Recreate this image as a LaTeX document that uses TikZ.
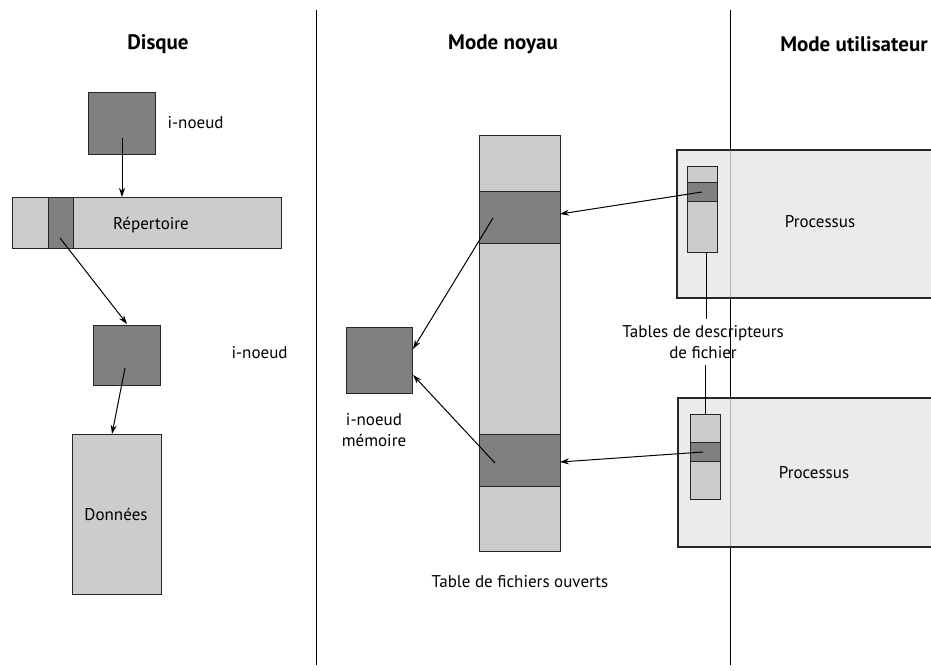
\documentclass[tikz,border=0pt]{standalone}
\usepackage{fontspec}
\setmainfont{PT Sans}
\usetikzlibrary{arrows.meta}
\definecolor{lightg}{HTML}{CCCCCC}
\definecolor{darkg}{HTML}{808080}
\definecolor{procg}{HTML}{EBEBEB}
\begin{document}
\begin{tikzpicture}[x=1pt,y=-1pt,
  box/.style={draw=black!85,line width=1pt,fill=lightg},
  dbox/.style={draw=black!85,line width=1pt,fill=darkg},
  pbox/.style={draw=black!85,line width=1.2pt,fill=procg},
  lbl/.style={font=\fontsize{17}{21}\selectfont,align=center},
  hdr/.style={font=\fontsize{21}{25}\selectfont\bfseries},
  arr/.style={-{Stealth[length=9pt,width=6pt]},line width=1pt}]
\useasboundingbox (0,0) rectangle (931,671);
% separators
\coordinate (s1t) at (316,10); \coordinate (s1b) at (316,665);
\coordinate (s2t) at (730,10); \coordinate (s2b) at (730,665);
\draw[line width=0.8pt] (s1t) -- (s1b);
\draw[line width=0.8pt] (s2t) -- (s2b);
% headers
\node[hdr] (h1) at (158,44) {Disque};
\node[hdr] (h2) at (503,44) {Mode noyau};
\node[hdr] (h3) at (854,44) {Mode utilisateur};
% disk side
\draw[dbox] (88,93) rectangle (155,155);
\node[lbl,anchor=west] (ino1l) at (164,123) {i-noeud};
\draw[box] (12,198) rectangle (281,248);
\draw[dbox] (48,198) rectangle (73,248);
\node[lbl] (rep) at (151,225) {Répertoire};
\coordinate (ino1b) at (122,138);
\coordinate (rept) at (122,197);
\draw[arr] (ino1b) -- (rept);
\draw[dbox] (93,325) rectangle (160,385);
\node[lbl,anchor=west] (ino2l) at (228,353) {i-noeud};
\coordinate (slot) at (60,238);
\coordinate (ino2t) at (127,324);
\draw[arr] (slot) -- (ino2t);
\coordinate (ino2c) at (125,368);
\draw[box] (72,434) rectangle (161,594);
\node[lbl] (don) at (116,514) {Données};
\coordinate (dont) at (112,434);
\draw[arr] (ino2c) -- (dont);
% kernel
\draw[box] (479,136) rectangle (560,551);
\draw[dbox] (479,192) rectangle (560,243);
\draw[dbox] (479,434) rectangle (560,486);
\node[lbl] (tfo) at (520,582) {Table de fichiers ouverts};
\draw[dbox] (346,327) rectangle (412,393);
\node[lbl] (inom) at (374,430) {i-noeud\\mémoire};
\coordinate (c1) at (493,218);
\coordinate (m1) at (413,349);
\coordinate (c2) at (495,463);
\coordinate (m2) at (413,375);
\draw[arr] (c1) -- (m1);
\draw[arr] (c2) -- (m2);
% user processes
\draw[pbox] (940,150) -- (677,150) -- (677,298) -- (940,298);
\draw[pbox] (940,398) -- (678,398) -- (678,547) -- (940,547);
\draw[black!30,line width=0.8pt] (730,151) -- (730,297);
\draw[black!30,line width=0.8pt] (730,399) -- (730,546);
\node[lbl] (p1) at (820,222) {Processus};
\node[lbl] (p2) at (814,473) {Processus};
\draw[box] (687,167) rectangle (717,252);
\draw[dbox] (687,183) rectangle (717,202);
\draw[box] (690,414) rectangle (720,499);
\draw[dbox] (690,442) rectangle (720,461);
\coordinate (t1) at (702,192);
\coordinate (k1) at (560,214);
\coordinate (t2) at (703,452);
\coordinate (k2) at (560,462);
\draw[arr] (t1) -- (k1);
\draw[arr] (t2) -- (k2);
\node[lbl] (tdf) at (703,342) {Tables de descripteurs\\de fichier};
\coordinate (t1b) at (706,252);
\coordinate (l1) at (706,319);
\coordinate (l2) at (705,365);
\coordinate (t2t) at (705,414);
\draw[line width=0.8pt] (t1b) -- (l1);
\draw[line width=0.8pt] (l2) -- (t2t);
\end{tikzpicture}
\end{document}
